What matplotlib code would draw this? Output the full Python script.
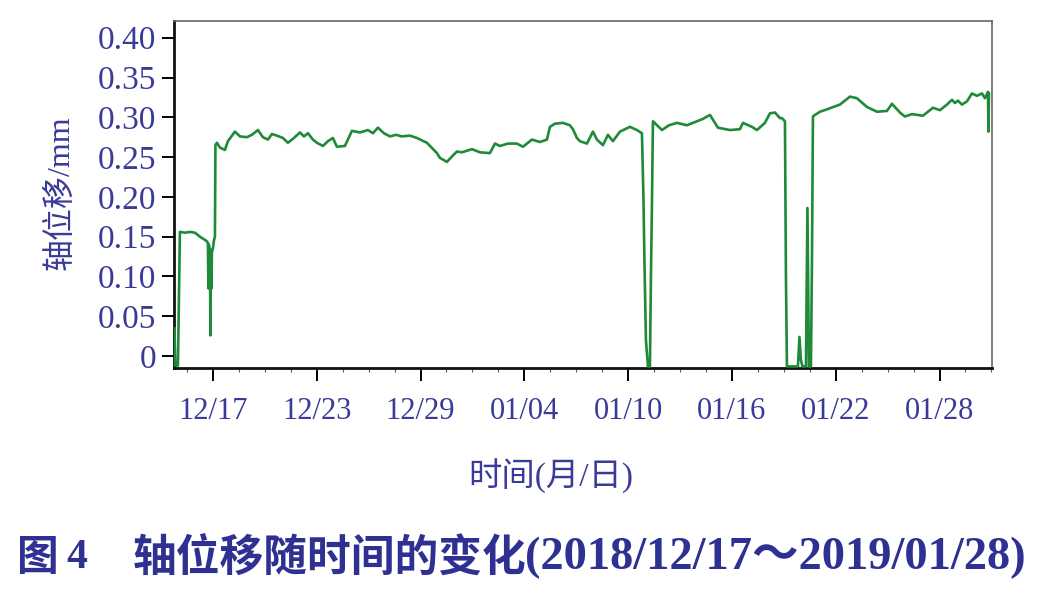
import matplotlib
matplotlib.use("Agg")
import matplotlib.pyplot as plt
from matplotlib.ticker import MultipleLocator
import numpy as np

# days counted from 2018/12/17 00:00, axial displacement in mm
days = [-2.225, -2.168, -2.081, -2.023, -1.908, -1.618, -1.329, -1.040, -0.751,
        -0.462, -0.347, -0.289, -0.260, -0.231, -0.202, -0.173, -0.145, -0.116,
        -0.087, -0.058, 0.0, 0.058, 0.116, 0.145, 0.173, 0.231, 0.405, 0.694,
        0.867, 1.272, 1.561, 1.965, 2.254, 2.601, 2.890, 3.179, 3.410, 3.699,
        4.046, 4.335, 4.682, 5.029, 5.260, 5.491, 5.780, 6.012, 6.358, 6.647,
        6.936, 7.168, 7.630, 8.035, 8.497, 8.960, 9.249, 9.538, 9.884, 10.231,
        10.578, 10.925, 11.387, 11.792, 12.370, 12.948, 13.121, 13.526, 13.873,
        14.104, 14.393, 14.971, 15.434, 16.012, 16.301, 16.590, 17.052, 17.572,
        17.919, 18.439, 18.902, 19.306, 19.480, 19.769, 20.231, 20.636, 20.809,
        21.040, 21.214, 21.618, 21.965, 22.197, 22.543, 22.832, 23.121, 23.526,
        24.104, 24.509, 24.798, 24.884, 24.942, 25.029, 25.145, 25.260, 25.318,
        25.376, 25.434, 25.954, 26.358, 26.821, 27.399, 27.977, 28.324, 28.728,
        29.191, 29.884, 30.462, 30.636, 31.156, 31.445, 31.908, 32.197, 32.486,
        32.775, 32.890, 33.064, 33.121, 33.179, 33.815, 33.902, 33.988, 34.075,
        34.277, 34.364, 34.451, 34.566, 34.624, 34.682, 34.798, 35.087, 35.491,
        36.243, 36.821, 37.225, 37.803, 38.382, 38.960, 39.249, 39.711, 40.000,
        40.405, 41.040, 41.618, 42.023, 42.428, 42.717, 42.890, 43.064, 43.295,
        43.584, 43.873, 44.162, 44.451, 44.624, 44.798, 44.827, 44.855]

disp = [0.035, -0.012, -0.012, -0.012, 0.156, 0.155, 0.156, 0.155, 0.150,
        0.146, 0.144, 0.142, 0.085, 0.140, 0.090, 0.135, 0.026, 0.130,
        0.085, 0.131, 0.135, 0.145, 0.150, 0.265, 0.266, 0.268, 0.262, 0.259,
        0.270, 0.282, 0.276, 0.275, 0.278, 0.284, 0.275, 0.272, 0.279, 0.277,
        0.274, 0.268, 0.274, 0.281, 0.276, 0.280, 0.272, 0.268, 0.264, 0.270,
        0.274, 0.263, 0.264, 0.283, 0.281, 0.284, 0.280, 0.287, 0.280, 0.276,
        0.278, 0.276, 0.277, 0.274, 0.268, 0.255, 0.249, 0.244, 0.252,
        0.257, 0.256, 0.260, 0.256, 0.255, 0.267, 0.264, 0.267, 0.267,
        0.263, 0.272, 0.269, 0.272, 0.288, 0.292, 0.293, 0.290, 0.285,
        0.274, 0.270, 0.267, 0.282, 0.272, 0.265, 0.278, 0.270, 0.282,
        0.288, 0.284, 0.280, 0.200, 0.120, 0.020, -0.013, -0.013, 0.100,
        0.190, 0.295, 0.284, 0.290, 0.293, 0.290, 0.295, 0.298, 0.303,
        0.287, 0.284, 0.285, 0.293, 0.288, 0.284, 0.293, 0.305, 0.306,
        0.299, 0.299, 0.295, 0.100, -0.013, -0.013, 0.024, -0.005, -0.013,
        -0.013, 0.186, -0.013, -0.013, 0.114, 0.301, 0.303, 0.307, 0.310,
        0.316, 0.326, 0.324, 0.313, 0.307, 0.308, 0.317, 0.306, 0.301,
        0.304, 0.302, 0.312, 0.309, 0.316, 0.322, 0.318, 0.321, 0.316,
        0.320, 0.330, 0.327, 0.330, 0.324, 0.332, 0.282, 0.330]

tick_days = [0, 6, 12, 18, 24, 30, 36, 42]
tick_labels = ["12/17", "12/23", "12/29", "01/04", "01/10", "01/16", "01/22", "01/28"]
y_ticks = [0, 0.05, 0.10, 0.15, 0.20, 0.25, 0.30, 0.35, 0.40]
y_labels = ["0", "0.05", "0.10", "0.15", "0.20", "0.25", "0.30", "0.35", "0.40"]

blue = "#3a3a98"
serif = ["Liberation Serif", "Noto Sans CJK SC"]

fig = plt.figure(figsize=(10.59, 5.97), dpi=100)
fig.patch.set_facecolor("white")

ax = fig.add_axes([0.1643, 0.3836, 0.7724, 0.5812])
ax.plot(days, disp, color="#1f8a38", lw=1.9, zorder=3)

ax.set_xlim(-2.25, 45.03)
ax.set_ylim(-0.015, 0.421)
ax.set_xticks(tick_days)
ax.set_xticklabels(tick_labels)
ax.xaxis.set_minor_locator(MultipleLocator(1.5))
ax.set_yticks(y_ticks)
ax.set_yticklabels(y_labels)

ax.tick_params(axis="both", which="major", direction="out", length=9, width=1.4,
               color="black", labelcolor=blue)
ax.tick_params(axis="x", which="major", pad=12, labelsize=22)
ax.tick_params(axis="y", which="major", pad=4, labelsize=24)
ax.tick_params(axis="x", which="minor", direction="out", length=3, width=0.8, color="#555555")
for lab in ax.get_xticklabels() + ax.get_yticklabels():
    lab.set_family(serif)

for s in ["left", "bottom"]:
    ax.spines[s].set_linewidth(2.0)
    ax.spines[s].set_color("#111111")
for s in ["top", "right"]:
    ax.spines[s].set_linewidth(1.2)
    ax.spines[s].set_color("#666666")

fig.text(60 / 1059, 1 - 193 / 597, "轴位移/mm", fontsize=23, color=blue, family=serif,
         rotation=90, ha="center", va="center")
fig.text(551 / 1059, 1 - 476 / 597, "时间(月/日)", fontsize=24, color=blue, family=serif,
         ha="center", va="center")

cap = "#2e3192"
ycap = 1 - 558 / 597
fig.text(17 / 1059, ycap, "图", fontsize=30, color=cap, family="Noto Sans CJK SC",
         weight="bold", va="center", ha="left")
fig.text(66 / 1059, ycap, "4", fontsize=30, color=cap, family="Liberation Serif",
         weight="bold", va="center", ha="left")
fig.text(133 / 1059, ycap, "轴位移随时间的变化", fontsize=31.5, color=cap,
         family="Noto Sans CJK SC", weight="bold", va="center", ha="left")
fig.text(525 / 1059, ycap, "(2018/12/17～2019/01/28)", fontsize=33.5, color=cap,
         family=serif, weight="bold", va="center", ha="left")

fig.savefig("out.png", dpi=100)
